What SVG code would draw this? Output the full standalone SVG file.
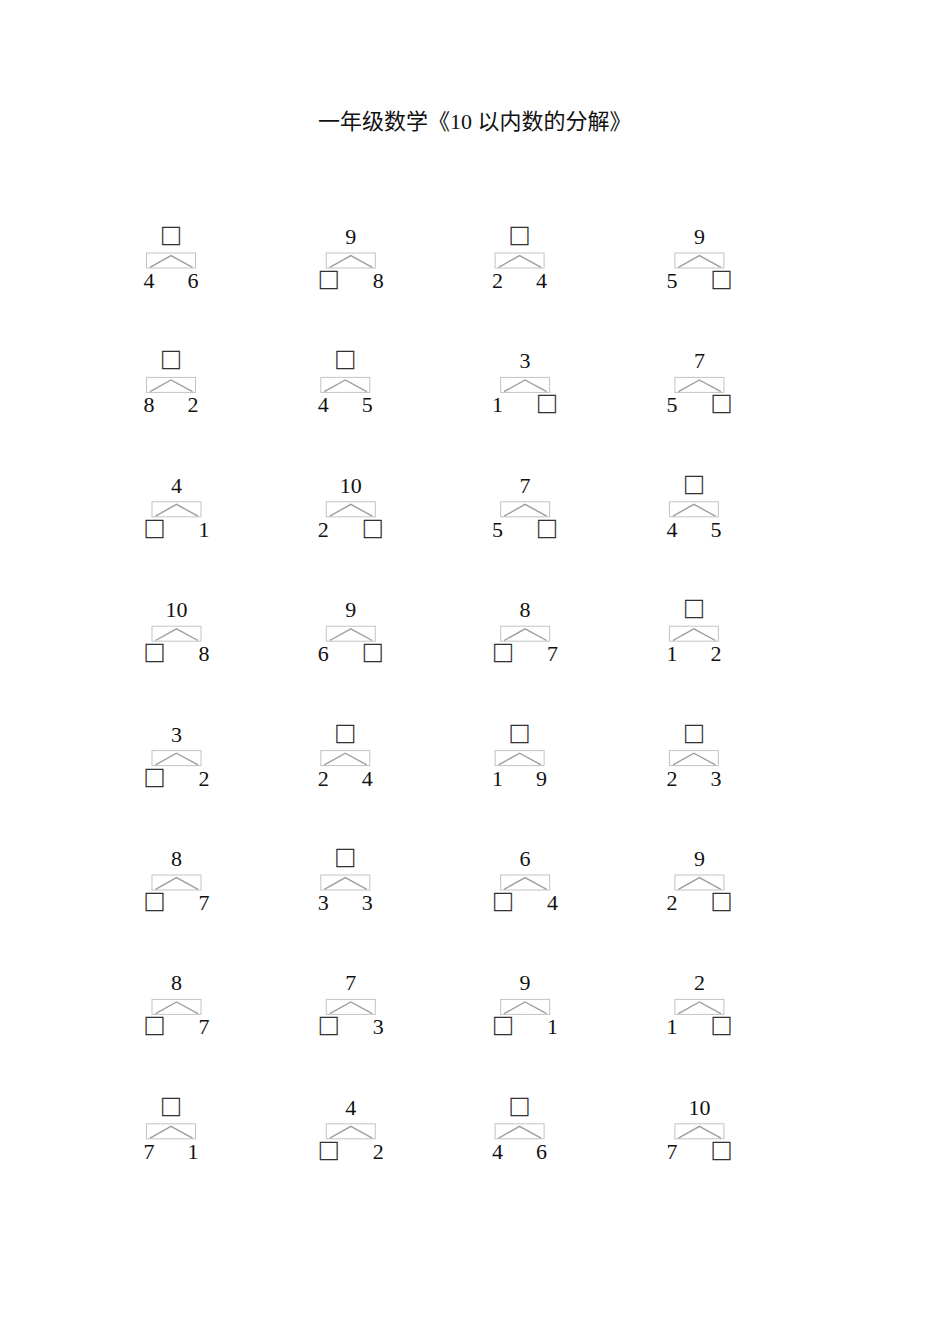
<svg xmlns="http://www.w3.org/2000/svg" width="950" height="1344" viewBox="0 0 950 1344">
<style>
.t{font-family:"Liberation Serif","Noto Sans CJK SC",serif;font-size:22px;fill:#111}
.n{font-family:"Liberation Serif",serif;font-size:22px;fill:#111;text-anchor:middle}
.sq{font-family:"Noto Sans CJK SC",sans-serif;font-size:22px;fill:#222;stroke:#222;stroke-width:0.3;text-anchor:middle}
.bx{fill:none;stroke:#c4c4c4;stroke-width:1}
.v{fill:none;stroke:#9e9e9e;stroke-width:1.4}
</style>
<defs>
<polyline id="vv" class="v" points="-21,23.3 0,11.6 21.5,23.3"/>
</defs>
<rect width="950" height="1344" fill="#fff"/>
<text id="title" class="t" x="318" y="129">一年级数学《10 以内数的分解》</text>

<g id="c1-1" transform="translate(171,244)"><text class="sq" x="0" y="0">□</text><rect class="bx" x="-24.5" y="9" width="49" height="15"/><text class="n" x="-22" y="44">4</text><text class="n" x="22" y="44">6</text></g>
<g id="c1-2" transform="translate(350.8,244)"><text class="n" x="0" y="0">9</text><rect class="bx" x="-24.5" y="9" width="49" height="15"/><text class="sq" x="-22" y="44">□</text><text class="n" x="27.5" y="44">8</text></g>
<g id="c1-3" transform="translate(519.6,244)"><text class="sq" x="0" y="0">□</text><rect class="bx" x="-24.5" y="9" width="49" height="15"/><text class="n" x="-22" y="44">2</text><text class="n" x="22" y="44">4</text></g>
<g id="c1-4" transform="translate(699.4,244)"><text class="n" x="0" y="0">9</text><rect class="bx" x="-24.5" y="9" width="49" height="15"/><text class="n" x="-27.5" y="44">5</text><text class="sq" x="22" y="44">□</text></g>

<g id="c2-1" transform="translate(171,368.4)"><text class="sq" x="0" y="0">□</text><rect class="bx" x="-24.5" y="9" width="49" height="15"/><text class="n" x="-22" y="44">8</text><text class="n" x="22" y="44">2</text></g>
<g id="c2-2" transform="translate(345.3,368.4)"><text class="sq" x="0" y="0">□</text><rect class="bx" x="-24.5" y="9" width="49" height="15"/><text class="n" x="-22" y="44">4</text><text class="n" x="22" y="44">5</text></g>
<g id="c2-3" transform="translate(525.1,368.4)"><text class="n" x="0" y="0">3</text><rect class="bx" x="-24.5" y="9" width="49" height="15"/><text class="n" x="-27.5" y="44">1</text><text class="sq" x="22" y="44">□</text></g>
<g id="c2-4" transform="translate(699.4,368.4)"><text class="n" x="0" y="0">7</text><rect class="bx" x="-24.5" y="9" width="49" height="15"/><text class="n" x="-27.5" y="44">5</text><text class="sq" x="22" y="44">□</text></g>

<g id="c3-1" transform="translate(176.5,492.8)"><text class="n" x="0" y="0">4</text><rect class="bx" x="-24.5" y="9" width="49" height="15"/><text class="sq" x="-22" y="44">□</text><text class="n" x="27.5" y="44">1</text></g>
<g id="c3-2" transform="translate(350.8,492.8)"><text class="n" x="0" y="0">10</text><rect class="bx" x="-24.5" y="9" width="49" height="15"/><text class="n" x="-27.5" y="44">2</text><text class="sq" x="22" y="44">□</text></g>
<g id="c3-3" transform="translate(525.1,492.8)"><text class="n" x="0" y="0">7</text><rect class="bx" x="-24.5" y="9" width="49" height="15"/><text class="n" x="-27.5" y="44">5</text><text class="sq" x="22" y="44">□</text></g>
<g id="c3-4" transform="translate(693.9,492.8)"><text class="sq" x="0" y="0">□</text><rect class="bx" x="-24.5" y="9" width="49" height="15"/><text class="n" x="-22" y="44">4</text><text class="n" x="22" y="44">5</text></g>

<g id="c4-1" transform="translate(176.5,617.2)"><text class="n" x="0" y="0">10</text><rect class="bx" x="-24.5" y="9" width="49" height="15"/><text class="sq" x="-22" y="44">□</text><text class="n" x="27.5" y="44">8</text></g>
<g id="c4-2" transform="translate(350.8,617.2)"><text class="n" x="0" y="0">9</text><rect class="bx" x="-24.5" y="9" width="49" height="15"/><text class="n" x="-27.5" y="44">6</text><text class="sq" x="22" y="44">□</text></g>
<g id="c4-3" transform="translate(525.1,617.2)"><text class="n" x="0" y="0">8</text><rect class="bx" x="-24.5" y="9" width="49" height="15"/><text class="sq" x="-22" y="44">□</text><text class="n" x="27.5" y="44">7</text></g>
<g id="c4-4" transform="translate(693.9,617.2)"><text class="sq" x="0" y="0">□</text><rect class="bx" x="-24.5" y="9" width="49" height="15"/><text class="n" x="-22" y="44">1</text><text class="n" x="22" y="44">2</text></g>

<g id="c5-1" transform="translate(176.5,741.6)"><text class="n" x="0" y="0">3</text><rect class="bx" x="-24.5" y="9" width="49" height="15"/><text class="sq" x="-22" y="44">□</text><text class="n" x="27.5" y="44">2</text></g>
<g id="c5-2" transform="translate(345.3,741.6)"><text class="sq" x="0" y="0">□</text><rect class="bx" x="-24.5" y="9" width="49" height="15"/><text class="n" x="-22" y="44">2</text><text class="n" x="22" y="44">4</text></g>
<g id="c5-3" transform="translate(519.6,741.6)"><text class="sq" x="0" y="0">□</text><rect class="bx" x="-24.5" y="9" width="49" height="15"/><text class="n" x="-22" y="44">1</text><text class="n" x="22" y="44">9</text></g>
<g id="c5-4" transform="translate(693.9,741.6)"><text class="sq" x="0" y="0">□</text><rect class="bx" x="-24.5" y="9" width="49" height="15"/><text class="n" x="-22" y="44">2</text><text class="n" x="22" y="44">3</text></g>

<g id="c6-1" transform="translate(176.5,866)"><text class="n" x="0" y="0">8</text><rect class="bx" x="-24.5" y="9" width="49" height="15"/><text class="sq" x="-22" y="44">□</text><text class="n" x="27.5" y="44">7</text></g>
<g id="c6-2" transform="translate(345.3,866)"><text class="sq" x="0" y="0">□</text><rect class="bx" x="-24.5" y="9" width="49" height="15"/><text class="n" x="-22" y="44">3</text><text class="n" x="22" y="44">3</text></g>
<g id="c6-3" transform="translate(525.1,866)"><text class="n" x="0" y="0">6</text><rect class="bx" x="-24.5" y="9" width="49" height="15"/><text class="sq" x="-22" y="44">□</text><text class="n" x="27.5" y="44">4</text></g>
<g id="c6-4" transform="translate(699.4,866)"><text class="n" x="0" y="0">9</text><rect class="bx" x="-24.5" y="9" width="49" height="15"/><text class="n" x="-27.5" y="44">2</text><text class="sq" x="22" y="44">□</text></g>

<g id="c7-1" transform="translate(176.5,990.4)"><text class="n" x="0" y="0">8</text><rect class="bx" x="-24.5" y="9" width="49" height="15"/><text class="sq" x="-22" y="44">□</text><text class="n" x="27.5" y="44">7</text></g>
<g id="c7-2" transform="translate(350.8,990.4)"><text class="n" x="0" y="0">7</text><rect class="bx" x="-24.5" y="9" width="49" height="15"/><text class="sq" x="-22" y="44">□</text><text class="n" x="27.5" y="44">3</text></g>
<g id="c7-3" transform="translate(525.1,990.4)"><text class="n" x="0" y="0">9</text><rect class="bx" x="-24.5" y="9" width="49" height="15"/><text class="sq" x="-22" y="44">□</text><text class="n" x="27.5" y="44">1</text></g>
<g id="c7-4" transform="translate(699.4,990.4)"><text class="n" x="0" y="0">2</text><rect class="bx" x="-24.5" y="9" width="49" height="15"/><text class="n" x="-27.5" y="44">1</text><text class="sq" x="22" y="44">□</text></g>

<g id="c8-1" transform="translate(171,1114.8)"><text class="sq" x="0" y="0">□</text><rect class="bx" x="-24.5" y="9" width="49" height="15"/><text class="n" x="-22" y="44">7</text><text class="n" x="22" y="44">1</text></g>
<g id="c8-2" transform="translate(350.8,1114.8)"><text class="n" x="0" y="0">4</text><rect class="bx" x="-24.5" y="9" width="49" height="15"/><text class="sq" x="-22" y="44">□</text><text class="n" x="27.5" y="44">2</text></g>
<g id="c8-3" transform="translate(519.6,1114.8)"><text class="sq" x="0" y="0">□</text><rect class="bx" x="-24.5" y="9" width="49" height="15"/><text class="n" x="-22" y="44">4</text><text class="n" x="22" y="44">6</text></g>
<g id="c8-4" transform="translate(699.4,1114.8)"><text class="n" x="0" y="0">10</text><rect class="bx" x="-24.5" y="9" width="49" height="15"/><text class="n" x="-27.5" y="44">7</text><text class="sq" x="22" y="44">□</text></g>

<g id="connectors">
<use href="#vv" x="171" y="244"/><use href="#vv" x="350.8" y="244"/><use href="#vv" x="519.6" y="244"/><use href="#vv" x="699.4" y="244"/>
<use href="#vv" x="171" y="368.4"/><use href="#vv" x="345.3" y="368.4"/><use href="#vv" x="525.1" y="368.4"/><use href="#vv" x="699.4" y="368.4"/>
<use href="#vv" x="176.5" y="492.8"/><use href="#vv" x="350.8" y="492.8"/><use href="#vv" x="525.1" y="492.8"/><use href="#vv" x="693.9" y="492.8"/>
<use href="#vv" x="176.5" y="617.2"/><use href="#vv" x="350.8" y="617.2"/><use href="#vv" x="525.1" y="617.2"/><use href="#vv" x="693.9" y="617.2"/>
<use href="#vv" x="176.5" y="741.6"/><use href="#vv" x="345.3" y="741.6"/><use href="#vv" x="519.6" y="741.6"/><use href="#vv" x="693.9" y="741.6"/>
<use href="#vv" x="176.5" y="866"/><use href="#vv" x="345.3" y="866"/><use href="#vv" x="525.1" y="866"/><use href="#vv" x="699.4" y="866"/>
<use href="#vv" x="176.5" y="990.4"/><use href="#vv" x="350.8" y="990.4"/><use href="#vv" x="525.1" y="990.4"/><use href="#vv" x="699.4" y="990.4"/>
<use href="#vv" x="171" y="1114.8"/><use href="#vv" x="350.8" y="1114.8"/><use href="#vv" x="519.6" y="1114.8"/><use href="#vv" x="699.4" y="1114.8"/>
</g>
</svg>
